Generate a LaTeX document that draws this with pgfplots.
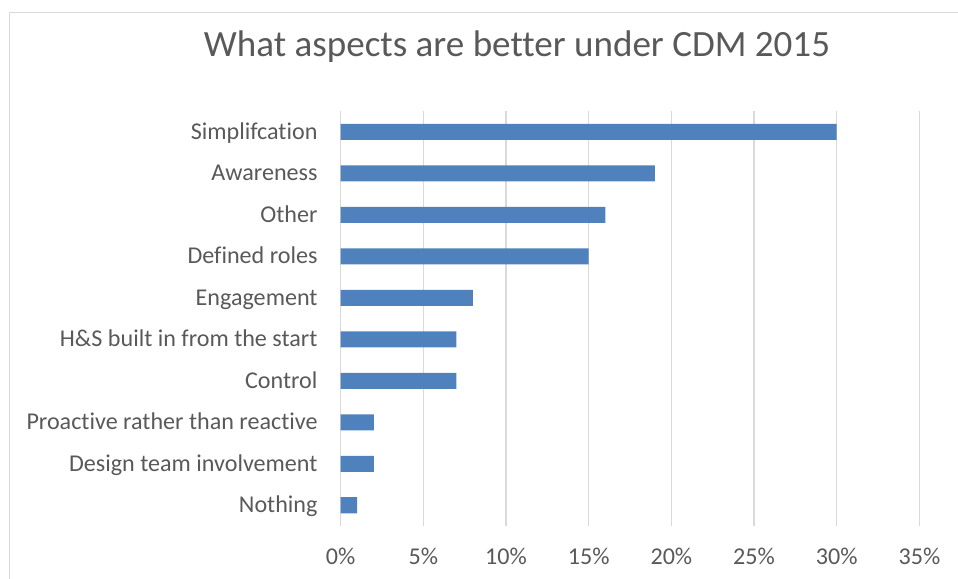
\documentclass[border=0pt]{standalone}
\usepackage{fontspec}
\setmainfont[Ligatures={NoCommon}]{Carlito}
\usepackage{pgfplots}
\pgfplotsset{compat=1.18}
\definecolor{barblue}{HTML}{4F81BD}
\definecolor{txtgray}{HTML}{595959}
\definecolor{gridgray}{HTML}{D9D9D9}
\definecolor{framegray}{HTML}{D9D9D9}
\begin{document}
\begin{tikzpicture}
\useasboundingbox (0,0) rectangle (958bp,579bp);
\draw[framegray, line width=1.2bp] (9.5bp,0) -- (9.5bp,566.5bp) -- (958bp,566.5bp);
\node[anchor=base, text=txtgray, font=\fontsize{37.2}{40}\selectfont, inner sep=0pt] at (517bp,522bp) {What aspects are better under CDM 2015};
\begin{axis}[
  at={(340.7bp,53bp)}, anchor=south west,
  width=578.7bp, height=415bp, scale only axis,
  xbar, bar width=16bp,
  xmin=0, xmax=35, ymin=-0.5, ymax=9.5,
  axis line style={draw=none},
  xtick={0,5,...,35},
  xticklabels={0\%,5\%,10\%,15\%,20\%,25\%,30\%,35\%},
  ytick={0,...,9},
  yticklabels={Nothing,Design team involvement,Proactive rather than reactive,Control,H\&S built in from the start,Engagement,Defined roles,Other,Awareness,Simplifcation},
  major tick length=0pt,
  xmajorgrids, major grid style={gridgray, line width=1.5bp},
  tick label style={text=txtgray, font=\fontsize{24.2}{27}\selectfont, inner sep=0pt},
  yticklabel style={anchor=base east, xshift=-23bp, yshift=-7.5bp},
  xticklabel style={anchor=base, yshift=-38bp},
  clip=false,
]
\addplot[fill=barblue, draw=none] coordinates {
  (1,0) (2,1) (2,2) (7,3) (7,4) (8,5) (15,6) (16,7) (19,8) (30,9)
};
\end{axis}
\end{tikzpicture}
\end{document}
